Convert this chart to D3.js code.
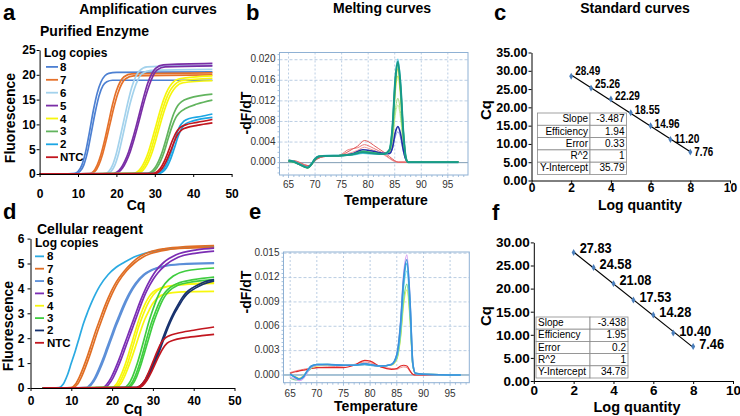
<!DOCTYPE html>
<html><head><meta charset="utf-8">
<script src="https://cdn.jsdelivr.net/npm/d3@7/dist/d3.min.js"></script>
<style>
body{margin:0;background:#fff;}
svg{display:block;font-family:"Liberation Sans",Arial,Helvetica,sans-serif;}
</style></head><body>
<svg id="fig" width="740" height="416"></svg>
<script>
// ---------------- DATA ----------------
const legendLabels = ["8","7","6","5","4","3","2","NTC"];
const cycleTicks = [0,10,20,30,40,50];
const fluoTicksA = [0,5,10,15,20,25];
const fluoTicksD = [0,1,2,3,4,5,6];

// Panel a: amplification curves (purified enzyme), [cycle, fluorescence]
const ampA8 = [
 [[0,0],[9,0.1],[10,0.5],[11,1.8],[12,4.5],[13,8.5],[14,12.8],[15,16.3],[16,18.6],[17,19.8],[18,20.3],[20,20.5],[45,20.6]],
 [[0,0],[9.5,0.1],[10.5,0.5],[11.5,1.8],[12.5,4.5],[13.5,8.5],[14.5,12.5],[15.5,15.8],[16.5,17.8],[17.5,18.6],[19,18.9],[45,18.9]]];
const ampA7 = [
 [[0,0],[13,0.1],[14,0.5],[15,1.8],[16,4],[17,7],[18,10.5],[19,14],[20,16.8],[21,18.6],[22,19.6],[24,20.2],[45,20.4]],
 [[0,0],[13.4,0.1],[14.4,0.5],[15.4,1.8],[16.4,4],[17.4,7],[18.4,10.3],[19.4,13.6],[20.4,16.3],[21.4,18.2],[22.4,19.2],[24.5,19.8],[45,20.0]]];
const ampA6 = [
 [[0,0],[17,0.1],[18,0.5],[19,1.8],[20,4.2],[21,7.5],[22,11],[23,14.5],[24,17.5],[25,19.6],[26,20.8],[28,21.6],[45,21.9]],
 [[0,0],[17.6,0.1],[18.6,0.5],[19.6,1.8],[20.6,4.2],[21.6,7.5],[22.6,11],[23.6,14.3],[24.6,17],[25.6,19],[26.6,20.2],[29,20.9],[45,21.1]]];
const ampA5 = [
 [[0,0],[19.2,0.1],[20.2,0.4],[21.2,1.2],[22.2,2.6],[23.2,4.5],[24.2,7],[25.2,9.8],[26.2,12.8],[27.2,15.8],[28.2,18.4],[29.2,20.2],[30.2,21.3],[32.2,22],[45,22.3]],
 [[0,0],[19.6,0.1],[20.6,0.4],[21.6,1.2],[22.6,2.6],[23.6,4.5],[24.6,7],[25.6,9.8],[26.6,12.8],[27.6,15.6],[28.6,18],[29.6,19.9],[30.6,21],[32.7,21.6],[45,21.8]]];
const ampA4 = [
 [[0,0],[24.4,0.1],[25.4,0.4],[26.4,1.2],[27.4,2.6],[28.4,4.6],[29.4,7.2],[30.4,10],[31.4,12.8],[32.4,15.2],[33.4,17],[34.4,18.2],[36.4,19.2],[45,19.8]],
 [[0,0],[24.9,0.1],[25.9,0.4],[26.9,1.2],[27.9,2.6],[28.9,4.6],[29.9,7.2],[30.9,10],[31.9,12.7],[32.9,15],[33.9,16.7],[34.9,17.8],[36.9,18.8],[45,19.3]],
 [[0,0],[25.4,0.1],[26.4,0.4],[27.4,1.2],[28.4,2.6],[29.4,4.6],[30.4,7.2],[31.4,10],[32.4,12.6],[33.4,14.8],[34.4,16.4],[35.4,17.5],[37.4,18.4],[45,18.8]]];
const ampA3 = [
 [[0,0],[28,0.1],[29,0.4],[30,1.2],[31,2.6],[32,4.6],[33,7.2],[34,10],[35,12.3],[36,13.8],[37,14.6],[39,15.3],[45,16.1]],
 [[0,0],[28.5,0.1],[29.5,0.4],[30.5,1.2],[31.5,2.6],[32.5,4.6],[33.5,7.2],[34.5,9.6],[35.5,11.4],[36.5,12.4],[38,13.2],[41,14.1],[45,14.9]]];
const ampA2 = [
 [[0,0],[30.5,0.1],[31.5,0.4],[32.5,1.2],[33.5,2.8],[34.5,5],[35.5,7.6],[36.5,9.6],[37.5,10.6],[39,11.2],[42,11.6],[45,12.1]],
 [[0,0],[31,0.1],[32,0.4],[33,1.2],[34,2.8],[35,5],[36,7.4],[37,9.2],[38,10.1],[40,10.7],[45,11.4]]];
const ampANTC = [
 [[0,0],[29.5,0.1],[30.5,0.4],[31.5,1.2],[32.5,2.6],[33.5,4.5],[34.5,6.6],[35.5,8.3],[36.5,9.3],[38,9.9],[41,10.4],[45,11]],
 [[0,0],[30,0.1],[31,0.4],[32,1.2],[33,2.6],[34,4.4],[35,6.4],[36,8],[37,8.9],[38.5,9.4],[41,9.8],[45,10.3]]];

// Panel d: amplification curves (cellular reagent)
const ampD8 = [
 [[3,0],[7,0.02],[8,0.15],[9,0.5],[10,1.0],[11,1.5],[12,2.05],[13,2.6],[14,3.05],[15,3.45],[16,3.8],[17,4.1],[19,4.55],[21,4.85],[23,5.05],[26,5.3],[29,5.45],[33,5.57],[38,5.64],[45,5.68]]];
const ampD7 = [
 [[3,0],[10,0.02],[11,0.15],[12,0.45],[13,0.85],[14,1.3],[15,1.8],[16,2.3],[17,2.75],[18,3.2],[19,3.6],[20,3.95],[21,4.25],[23,4.7],[25,5.05],[27,5.3],[29,5.45],[33,5.6],[38,5.68],[45,5.72]],
 [[3,0],[10.5,0.02],[11.5,0.15],[12.5,0.45],[13.5,0.85],[14.5,1.3],[15.5,1.8],[16.5,2.3],[17.5,2.75],[18.5,3.2],[19.5,3.6],[20.5,3.95],[21.5,4.25],[23.5,4.7],[25.5,5.02],[27.5,5.25],[29.5,5.4],[33.5,5.55],[38.5,5.62],[45,5.65]]];
const ampD6 = [
 [[3,0],[13.7,0.02],[14.7,0.15],[15.7,0.4],[16.7,0.75],[17.7,1.15],[18.7,1.6],[19.7,2.05],[20.7,2.5],[21.7,2.9],[22.7,3.3],[23.7,3.65],[24.7,3.95],[25.7,4.2],[27.7,4.55],[29.7,4.75],[32.7,4.9],[36.7,4.98],[45,5.03]],
 [[3,0],[14,0.02],[15,0.15],[16,0.4],[17,0.75],[18,1.15],[19,1.6],[20,2.05],[21,2.5],[22,2.9],[23,3.3],[24,3.65],[25,3.95],[26,4.2],[28,4.55],[30,4.75],[32.7,4.88],[36.7,4.96],[45,5.0]]];
const ampD5 = [
 [[3,0],[17.7,0.02],[18.7,0.15],[19.7,0.4],[20.7,0.75],[21.7,1.15],[22.7,1.6],[23.7,2.05],[24.7,2.5],[25.7,2.95],[26.7,3.4],[27.7,3.8],[28.7,4.15],[29.7,4.45],[30.7,4.7],[32.7,5.05],[35.7,5.35],[40.7,5.55],[45,5.62]],
 [[3,0],[18.2,0.02],[19.2,0.15],[20.2,0.4],[21.2,0.75],[22.2,1.15],[23.2,1.6],[24.2,2.05],[25.2,2.5],[26.2,2.95],[27.2,3.4],[28.2,3.8],[29.2,4.12],[30.2,4.4],[31.2,4.62],[33.2,4.95],[36.2,5.25],[40.7,5.42],[45,5.5]]];
const ampD4 = [
 [[3,0],[20,0.02],[21,0.15],[22,0.45],[23,0.85],[24,1.35],[25,1.9],[26,2.45],[27,2.95],[28,3.35],[29,3.65],[30,3.85],[32,4.02],[35,4.12],[40,4.18],[45,4.2]],
 [[3,0],[20.5,0.02],[21.5,0.15],[22.5,0.45],[23.5,0.85],[24.5,1.35],[25.5,1.9],[26.5,2.45],[27.5,2.9],[28.5,3.3],[29.5,3.6],[31,3.9],[33,4.05],[37,4.15],[45,4.22]],
 [[3,0],[21,0.02],[22,0.15],[23,0.45],[24,0.85],[25,1.3],[26,1.8],[27,2.3],[28,2.75],[29,3.1],[30,3.4],[31,3.6],[33,3.78],[37,3.86],[45,3.88]]];
const ampD3 = [
 [[3,0],[23,0.02],[24,0.15],[25,0.45],[26,0.9],[27,1.45],[28,2.05],[29,2.65],[30,3.15],[31,3.6],[32,3.95],[33,4.2],[35,4.5],[38,4.7],[45,4.82]],
 [[3,0],[23.6,0.02],[24.6,0.15],[25.6,0.45],[26.6,0.9],[27.6,1.45],[28.6,2.05],[29.6,2.6],[30.6,3.05],[31.6,3.45],[32.6,3.75],[33.6,3.95],[36,4.2],[40,4.35],[45,4.45]],
 [[3,0],[24,0.02],[25,0.15],[26,0.45],[27,0.9],[28,1.45],[29,2.0],[30,2.55],[31,3.0],[32,3.4],[33,3.7],[34,3.9],[36,4.12],[40,4.27],[45,4.35]]];
const ampD2 = [
 [[3,0],[26,0.02],[27,0.1],[28,0.3],[29,0.6],[30,0.95],[31,1.35],[32,1.8],[33,2.25],[34,2.65],[35,3.0],[36,3.3],[37,3.58],[38,3.8],[40,4.05],[42,4.22],[45,4.35]],
 [[3,0],[26.3,0.02],[27.3,0.1],[28.3,0.3],[29.3,0.6],[30.3,0.95],[31.3,1.35],[32.3,1.8],[33.3,2.25],[34.3,2.65],[35.3,3.0],[36.3,3.28],[37.3,3.55],[38.3,3.76],[40.3,4.0],[42.3,4.17],[45,4.3]]];
const ampDNTC = [
 [[3,0],[26,0.02],[27,0.1],[28,0.3],[29,0.65],[30,1.05],[31,1.45],[32,1.8],[33,2.0],[34,2.1],[36,2.2],[40,2.32],[45,2.45]],
 [[3,0],[26.5,0.02],[27.5,0.1],[28.5,0.3],[29.5,0.6],[30.5,0.95],[31.5,1.3],[32.5,1.6],[33.5,1.8],[35,1.92],[38,2.02],[42,2.1],[45,2.15]]];

// Panel b: melting curves (purified enzyme)
const tempTicks = [65,70,75,80,85,90,95];
const derivTicksB = [0,0.004,0.008,0.012,0.016,0.020];
const tempB = [65,66,67,68,68.6,69.3,70,70.7,72,75,77,79,81,83,84,84.6,85.1,85.6,86.1,86.6,87.1,87.5,90,97];
const meltBLightBlue = [0.0004,0.0002,-0.0003,-0.0007,-0.0009,-0.0003,0.0007,0.0012,0.0013,0.0014,0.0016,0.0022,0.0020,0.0017,0.0017,0.0028,0.0050,0.0060,0.0048,0.0022,0.0005,0.0001,0.0001,0.0001];
const meltBNavy = [0.0004,0.0002,-0.0003,-0.0007,-0.0009,-0.0003,0.0007,0.0012,0.0013,0.0014,0.0017,0.0025,0.0022,0.0018,0.0018,0.0030,0.0058,0.0070,0.0056,0.0026,0.0006,0.0001,0.0001,0.0001];
const meltBPale = [0.0004,0.0002,-0.0003,-0.0008,-0.0009,-0.0003,0.0007,0.0012,0.0013,0.0014,0.0016,0.0019,0.0018,0.0017,0.0019,0.0043,0.0092,0.0112,0.0086,0.0036,0.0006,0.0001,0.0001,0.0001];
const meltBLightGreen = [0.0004,0.0002,-0.0003,-0.0008,-0.0009,-0.0003,0.0007,0.0012,0.0013,0.0014,0.0016,0.0020,0.0018,0.0017,0.0020,0.0047,0.0102,0.0125,0.0096,0.0040,0.0007,0.0001,0.0001,0.0001];
const meltBYellowGreen = [0.0004,0.0002,-0.0003,-0.0008,-0.0010,-0.0003,0.0007,0.0012,0.0013,0.0014,0.0016,0.0021,0.0019,0.0017,0.0022,0.0060,0.0136,0.0168,0.0128,0.0052,0.0008,0.0001,0.0001,0.0001];
const meltBYellow = [0.0004,0.0002,-0.0003,-0.0008,-0.0010,-0.0003,0.0007,0.0012,0.0013,0.0014,0.0016,0.0021,0.0019,0.0017,0.0023,0.0066,0.0148,0.0182,0.0140,0.0058,0.0009,0.0001,0.0001,0.0001];
const meltBGreen = [0.0003,0.0001,-0.0003,-0.0008,-0.0010,-0.0004,0.0006,0.0012,0.0013,0.0014,0.0016,0.0022,0.0019,0.0017,0.0024,0.0070,0.0155,0.0190,0.0145,0.0060,0.0009,0.0001,0.0001,0.0001];
const meltBCyan = [0.0005,0.0003,-0.0002,-0.0007,-0.0009,-0.0002,0.0008,0.0013,0.0014,0.0014,0.0015,0.0018,0.0017,0.0016,0.0024,0.0075,0.0165,0.0201,0.0155,0.0065,0.0011,0.0001,0.0001,0.0001];
const meltBTeal = [0.0004,0.0002,-0.0003,-0.0008,-0.0010,-0.0003,0.0007,0.0012,0.0013,0.0014,0.0016,0.0020,0.0018,0.0017,0.0025,0.0072,0.0160,0.0196,0.0150,0.0062,0.0010,0.0001,0.0001,0.0001];
const tempBRed = [65,66,67,68,69,70,71,72,74,75,76,77,78,79.3,80,81,82,83,84,85,85.7,87,90,97];
const meltBRed1 = [0.0003,0.0004,0.0001,-0.0004,-0.0006,0.0004,0.0010,0.0012,0.0013,0.0015,0.0020,0.0026,0.0032,0.0043,0.0041,0.0034,0.0027,0.0020,0.0012,0.0004,0.0001,0.0001,0.0001,0.0001];
const meltBRed2 = [0.0005,0.0003,0.0000,-0.0005,-0.0007,0.0005,0.0011,0.0012,0.0013,0.0016,0.0024,0.0027,0.0029,0.0035,0.0033,0.0028,0.0023,0.0017,0.0009,0.0003,0.0001,0.0001,0.0001,0.0001];
const meltBRed3 = [0.0004,0.0003,0.0000,-0.0004,-0.0006,0.0004,0.0010,0.0012,0.0013,0.0014,0.0017,0.0020,0.0024,0.0030,0.0028,0.0024,0.0020,0.0015,0.0008,0.0002,0.0001,0.0001,0.0001,0.0001];

// Panel e: melting curves (cellular reagent)
const derivTicksE = [0,0.003,0.006,0.009,0.012,0.015];
const tempE = [65,66,66.7,67.5,68.3,69,70,72,75,77,79,80,82,84,85,85.7,86.3,86.9,87.5,88,88.5,90,97];
const meltEYellow = [0.0001,-0.0002,-0.0004,-0.0001,0.0005,0.0009,0.0011,0.0012,0.0012,0.0012,0.0013,0.0012,0.0011,0.0012,0.0019,0.0045,0.0088,0.0105,0.0066,0.0011,0.0002,0.0001,0.0000];
const meltEGreen = [-0.0004,-0.0006,-0.0006,-0.0003,0.0004,0.0009,0.0012,0.0013,0.0012,0.0012,0.0014,0.0012,0.0011,0.0013,0.0020,0.0048,0.0094,0.0112,0.0070,0.0012,0.0002,0.0001,0.0000];
const meltELightCyan = [0.0000,-0.0003,-0.0005,-0.0002,0.0006,0.0011,0.0013,0.0013,0.0012,0.0012,0.0013,0.0012,0.0011,0.0013,0.0022,0.0055,0.0108,0.0128,0.0080,0.0013,0.0002,0.0001,0.0000];
const meltEViolet = [-0.0003,-0.0005,-0.0007,-0.0004,0.0004,0.0010,0.0012,0.0013,0.0012,0.0012,0.0013,0.0012,0.0011,0.0013,0.0025,0.0065,0.0125,0.0148,0.0090,0.0015,0.0002,0.0001,0.0000];
const meltECyan = [0.0001,-0.0003,-0.0005,-0.0002,0.0006,0.0011,0.0013,0.0013,0.0012,0.0012,0.0013,0.0012,0.0011,0.0013,0.0024,0.0060,0.0116,0.0137,0.0085,0.0014,0.0002,0.0001,0.0000];
const meltEBlue = [0.0001,-0.0003,-0.0005,-0.0002,0.0006,0.0011,0.0013,0.0013,0.0012,0.0012,0.0014,0.0013,0.0011,0.0013,0.0025,0.0062,0.0120,0.0142,0.0088,0.0015,0.0002,0.0001,0.0000];
const meltERed1 = [0.0002,0.0004,0.0005,0.0006,0.0007,0.0008,0.0009,0.0009,0.0009,0.0012,0.0018,0.0017,0.0010,0.0007,0.0008,0.0011,0.0012,0.0011,0.0005,0.0001,0.0000,0.0000,0.0000];
const meltERed2 = [0.0003,0.0005,0.0006,0.0007,0.0008,0.0008,0.0009,0.0010,0.0011,0.0013,0.0016,0.0015,0.0010,0.0008,0.0007,0.0009,0.0010,0.0009,0.0004,0.0001,0.0000,0.0000,0.0000];

// Panels c, f: standard curves
const logQty = [2,3,4,5,6,7,8];
const cqC = [28.49,25.26,22.29,18.55,14.96,11.20,7.76];
const cqF = [27.83,24.58,21.08,17.53,14.28,10.40,7.46];
const logTicks = [0,2,4,6,8,10];
const cqTicksC = [0,5,10,15,20,25,30,35];
const cqTicksF = [0,5,10,15,20,25,30];
const statNames = ["Slope","Efficiency","Error","R^2","Y-Intercept"];
const statsC = ["-3.487","1.94","0.33","1","35.79"];
const statsF = ["-3.438","1.95","0.2","1","34.78"];

// ---------------- STYLES ----------------
const colorsA = ["#4d80d2","#e5712a","#a3d2ec","#7a2ea6","#f6f60c","#62b45e","#1ba6e4","#c2161f"];
const colorsD = ["#2aaae2","#e06e24","#5c8fd8","#7b2db4","#f7f70c","#3fcd3f","#17316e","#c2161f"];

const svg = d3.select("#fig");
const FONT = "'Liberation Sans',Arial,Helvetica,sans-serif";

function text(g, x, y, s, o = {}) {
  const t = g.append("text").attr("x", x).attr("y", y).text(s)
    .attr("font-size", o.size || 12).attr("font-weight", o.weight || "bold")
    .attr("fill", o.fill || "#000").attr("text-anchor", o.anchor || "start")
    .attr("dominant-baseline", o.base || "middle");
  if (o.rotate) t.attr("transform", `rotate(-90,${x},${y})`);
  return t;
}

// ---------------- AMPLIFICATION PANELS ----------------
function ampPanel(cfg) {
  const g = svg.append("g");
  const x = d3.scaleLinear().domain([0, 50]).range(cfg.xr);
  const y = d3.scaleLinear().domain([0, cfg.ymax]).range(cfg.yr);
  const line = d3.line().x(d => x(d[0])).y(d => y(d[1])).curve(d3.curveMonotoneX);
  cfg.series.forEach((curves, i) => {
    curves.forEach(c => {
      g.append("path").datum(c).attr("d", line).attr("fill", "none")
        .attr("stroke", cfg.colors[i]).attr("stroke-width", 1.7);
    });
  });
  const ax = g.append("g").attr("transform", `translate(0,${cfg.yr[0]})`)
    .call(d3.axisBottom(x).tickValues(cycleTicks).tickSize(3).tickSizeOuter(0).tickPadding(cfg.xpad).tickFormat(d3.format("d")));
  const ay = g.append("g").attr("transform", `translate(${cfg.xr[0]},0)`)
    .call(d3.axisLeft(y).tickValues(cfg.yticks).tickSize(3).tickSizeOuter(0).tickPadding(cfg.ypad).tickFormat(d3.format("d")));
  [ax, ay].forEach(a => {
    a.selectAll("text").attr("font-size", 12).attr("font-weight", "bold").attr("font-family", FONT).attr("fill", "#000");
    a.select(".domain").attr("stroke", "#000").attr("stroke-width", 1.2);
    a.selectAll(".tick line").attr("stroke", "#000");
  });
  ay.select(".domain").attr("stroke-width", 1);
  text(g, cfg.ylab[0], cfg.ylab[1], "Fluorescence", {size: 14, anchor: "middle", rotate: true});
  text(g, cfg.xlab[0], cfg.xlab[1], "Cq", {size: 14, anchor: "middle"});
  text(g, cfg.sub[0], cfg.sub[1], cfg.subText, {size: 14});
  text(g, cfg.leg[0], cfg.leg[1], "Log copies", {size: 12});
  legendLabels.forEach((l, i) => {
    const yy = cfg.leg[1] + cfg.legStep * (i + 1);
    g.append("line").attr("x1", cfg.leg[0] + cfg.legLine[0]).attr("x2", cfg.leg[0] + cfg.legLine[1])
      .attr("y1", yy).attr("y2", yy).attr("stroke", cfg.colors[i]).attr("stroke-width", 1.8);
    text(g, cfg.leg[0] + cfg.legText, yy + 1, l, {size: 11.5});
  });
}

ampPanel({
  xr: [39.6, 231.6], yr: [174, 50], ymax: 25, yticks: fluoTicksA, ypad: 1, xpad: 12,
  series: [ampA8, ampA7, ampA6, ampA5, ampA4, ampA3, ampA2, ampANTC], colors: colorsA,
  ylab: [11, 118], xlab: [136, 206], sub: [40, 32], subText: "Purified Enzyme",
  leg: [44, 54], legStep: 12.9, legLine: [2, 14], legText: 16
});
ampPanel({
  xr: [30.5, 234.5], yr: [388, 238.6], ymax: 6, yticks: fluoTicksD, ypad: 3, xpad: 5,
  series: [ampD8, ampD7, ampD6, ampD5, ampD4, ampD3, ampD2, ampDNTC], colors: colorsD,
  ylab: [9, 326], xlab: [133, 410], sub: [37, 230.5], subText: "Cellular reagent",
  leg: [35, 244], legStep: 12.35, legLine: [0, 9], legText: 12
});

// ---------------- MELT PANELS ----------------
function meltPanel(cfg) {
  const g = svg.append("g");
  const x = d3.scaleLinear().domain(cfg.xd).range([cfg.box[0], cfg.box[2]]);
  const y = d3.scaleLinear().domain(cfg.yd).range([cfg.box[3], cfg.box[1]]);
  const [x0, y0, x1, y1] = cfg.box;
  tempTicks.forEach(t => g.append("line").attr("x1", x(t)).attr("x2", x(t)).attr("y1", y0).attr("y2", y1)
    .attr("stroke", "#a9c2dc").attr("stroke-width", 0.8).attr("stroke-dasharray", "2,2"));
  cfg.yticks.forEach(v => { if (v !== 0) g.append("line").attr("x1", x0).attr("x2", x1).attr("y1", y(v)).attr("y2", y(v))
    .attr("stroke", "#a9c2dc").attr("stroke-width", 0.8).attr("stroke-dasharray", "3,2"); });
  g.append("line").attr("x1", x0).attr("x2", x1).attr("y1", y(0)).attr("y2", y(0))
    .attr("stroke", cfg.zeroColor).attr("stroke-width", 1);
  const line = d3.line().x(d => x(d[0])).y(d => y(d[1])).curve(d3.curveMonotoneX);
  cfg.curves.forEach(c => {
    const pts = c.t.map((t, i) => [t, c.v[i]]);
    g.append("path").datum(pts).attr("d", line).attr("fill", "none")
      .attr("stroke", c.color).attr("stroke-width", c.w);
  });
  g.append("rect").attr("x", x0).attr("y", y0).attr("width", x1 - x0).attr("height", y1 - y0)
    .attr("fill", "none").attr("stroke", "#8fb1d4").attr("stroke-width", 1);
  d3.range(Math.ceil(cfg.xd[0]), Math.floor(cfg.xd[1]) + 1).forEach(t => {
    const major = t % 5 === 0;
    g.append("line").attr("x1", x(t)).attr("x2", x(t)).attr("y1", y1).attr("y2", y1 + (major ? 3 : 2))
      .attr("stroke", "#8fb1d4").attr("stroke-width", 0.8);
  });
  cfg.yminor.forEach(v => {
    g.append("line").attr("x1", x0).attr("x2", x0 - 2).attr("y1", y(v)).attr("y2", y(v))
      .attr("stroke", "#8fb1d4").attr("stroke-width", 0.8);
  });
  tempTicks.forEach(t => text(g, x(t), cfg.xlabY, String(t), {size: 10, weight: "normal", fill: "#333", anchor: "middle"}));
  cfg.yticks.forEach(v => text(g, x0 - 4, y(v), d3.format(cfg.fmt)(v), {size: 10, weight: "normal", fill: "#333", anchor: "end"}));
  text(g, cfg.ylab[0], cfg.ylab[1], "-dF/dT", {size: 14, anchor: "middle", rotate: true});
  text(g, cfg.xlab[0], cfg.xlab[1], "Temperature", {size: 14, anchor: "middle"});
}

meltPanel({
  box: [279.5, 52.5, 468, 175], xd: [63.3, 98.8], yd: [-0.0024, 0.0214], zeroColor: "#7f9cb4",
  yticks: derivTicksB, yminor: d3.range(-2, 22).map(v => v / 1000), fmt: ".3f", xlabY: 185,
  ylab: [247, 113], xlab: [386, 201],
  curves: [
    {t: tempBRed, v: meltBRed3, color: "#f39a9a", w: 1},
    {t: tempBRed, v: meltBRed2, color: "#ec7777", w: 1},
    {t: tempBRed, v: meltBRed1, color: "#e35a5a", w: 1},
    {t: tempB, v: meltBLightBlue, color: "#8f9ee6", w: 1},
    {t: tempB, v: meltBPale, color: "#c7ef9f", w: 1},
    {t: tempB, v: meltBLightGreen, color: "#9edf76", w: 1},
    {t: tempB, v: meltBYellowGreen, color: "#c6e24a", w: 1.2},
    {t: tempB, v: meltBYellow, color: "#ecec2a", w: 1.4},
    {t: tempB, v: meltBNavy, color: "#2330a8", w: 1.6},
    {t: tempB, v: meltBCyan, color: "#5ccbe6", w: 1.4},
    {t: tempB, v: meltBGreen, color: "#3cc466", w: 1.6},
    {t: tempB, v: meltBTeal, color: "#18998a", w: 2}
  ]
});
meltPanel({
  box: [283.5, 252, 469.3, 382.7], xd: [63.75, 98.6], yd: [-0.00095, 0.01515], zeroColor: "#4f86ad",
  yticks: derivTicksE, yminor: d3.range(0, 31).map(v => v / 2000), fmt: ".3f", xlabY: 394,
  ylab: [247, 292], xlab: [376, 407],
  curves: [
    {t: tempE, v: meltERed2, color: "#f08a8a", w: 1},
    {t: tempE, v: meltERed1, color: "#e02a2a", w: 1.2},
    {t: tempE, v: meltEYellow, color: "#e6ef52", w: 1.2},
    {t: tempE, v: meltEGreen, color: "#6fd88c", w: 1.2},
    {t: tempE, v: meltELightCyan, color: "#86e0ee", w: 1.2},
    {t: tempE, v: meltEViolet, color: "#d6a2f2", w: 1.4},
    {t: tempE, v: meltECyan, color: "#3fc2de", w: 1.6},
    {t: tempE, v: meltEBlue, color: "#3b92dc", w: 1.6}
  ]
});

// ---------------- STANDARD CURVE PANELS ----------------
function stdPanel(cfg) {
  const g = svg.append("g");
  const x = d3.scaleLinear().domain([0, 10]).range(cfg.xr);
  const y = d3.scaleLinear().domain([0, cfg.ymax]).range(cfg.yr);
  const ax = g.append("g").attr("transform", `translate(0,${cfg.yr[0]})`)
    .call(d3.axisBottom(x).tickValues(logTicks).tickSize(3).tickSizeOuter(0).tickPadding(cfg.xpad).tickFormat(d3.format("d")));
  const ay = g.append("g").attr("transform", `translate(${cfg.xr[0]},0)`)
    .call(d3.axisLeft(y).tickValues(cfg.yticks).tickSize(3).tickSizeOuter(0).tickPadding(1).tickFormat(d3.format(".2f")));
  [ax, ay].forEach(a => {
    a.selectAll("text").attr("font-size", cfg.tickSize).attr("font-weight", "bold").attr("font-family", FONT).attr("fill", "#000");
    a.select(".domain").attr("stroke", "#000");
    a.selectAll(".tick line").attr("stroke", "#000");
  });
  ax.selectAll("text").attr("font-size", cfg.xTickSize);
  const slope = +cfg.stats[0], icpt = +cfg.stats[4];
  const lx = d3.extent(logQty);
  g.append("line").attr("x1", x(lx[0])).attr("y1", y(slope * lx[0] + icpt))
    .attr("x2", x(lx[1])).attr("y2", y(slope * lx[1] + icpt)).attr("stroke", "#000").attr("stroke-width", 1.2);
  const sym = d3.symbol().type(d3.symbolDiamond).size(14);
  logQty.forEach((q, i) => {
    g.append("path").attr("d", sym).attr("transform", `translate(${x(q)},${y(cfg.cq[i])})`).attr("fill", "#4a7ebb");
    // labels fan out slightly down the line, as in the source figure
    const dy = cfg.lab[1] + cfg.labSpread * i;
    text(g, x(q) + cfg.lab[0], y(cfg.cq[i]) + dy, cfg.cq[i].toFixed(2), {size: cfg.labSize})
      .attr("textLength", cfg.labW[i === 6 ? 1 : 0]).attr("lengthAdjust", "spacingAndGlyphs");
  });
  const [tx0, ty0, tx1, rh, split] = cfg.table;
  statNames.forEach((n, i) => {
    const yy = ty0 + i * rh;
    g.append("rect").attr("x", tx0).attr("y", yy).attr("width", split - tx0).attr("height", rh)
      .attr("fill", "#fff").attr("stroke", "#8a8a8a").attr("stroke-width", 0.8);
    g.append("rect").attr("x", split).attr("y", yy).attr("width", tx1 - split).attr("height", rh)
      .attr("fill", "#fff").attr("stroke", "#8a8a8a").attr("stroke-width", 0.8);
    text(g, cfg.leftAlign ? tx0 + 2 : split - 2, yy + rh / 2 + 0.5, n, {size: 10, weight: "normal", anchor: cfg.leftAlign ? "start" : "end"});
    text(g, tx1 - 2, yy + rh / 2 + 0.5, cfg.stats[i], {size: 10, weight: "normal", anchor: "end"});
  });
  text(g, cfg.ylab[0], cfg.ylab[1], "Cq", {size: 15, anchor: "middle", rotate: true});
  text(g, cfg.xlab[0], cfg.xlab[1], "Log quantity", {size: cfg.xlabSize, anchor: "middle"});
}

stdPanel({
  xr: [531.5, 730], yr: [180.5, 52.5], ymax: 35, yticks: cqTicksC, cq: cqC, stats: statsC,
  tickSize: 12.5, xTickSize: 12, xpad: 0, lab: [4, -4.2], labSpread: 0.8, labSize: 12.5, labW: [25, 19],
  table: [537.5, 113, 626.5, 12.3, 590], leftAlign: false,
  ylab: [487, 110], xlab: [640, 206.5], xlabSize: 14
});
stdPanel({
  xr: [533.8, 733], yr: [381, 242.4], ymax: 30, yticks: cqTicksF, cq: cqF, stats: statsF,
  tickSize: 13.5, xTickSize: 13.5, xpad: 1, lab: [6, -3], labSpread: 0.35, labSize: 14.5, labW: [32, 25],
  table: [536, 317, 628, 12.2, 590], leftAlign: true,
  ylab: [487, 316], xlab: [637, 408], xlabSize: 14.5
});

// ---------------- TITLES / PANEL LETTERS ----------------
const tg = svg.append("g");
text(tg, 148, 10, "Amplification curves", {size: 14, anchor: "middle"});
text(tg, 382, 9.5, "Melting curves", {size: 14, anchor: "middle"});
text(tg, 635, 9.5, "Standard curves", {size: 14, anchor: "middle"});
[["a", 3, 20], ["b", 246, 20], ["c", 494, 19.5], ["d", 3, 219], ["e", 249, 219], ["f", 492, 219.5]].forEach(([l, x, y]) =>
  text(tg, x, y, l, {size: 22, base: "auto"}));
</script>
</body></html>
